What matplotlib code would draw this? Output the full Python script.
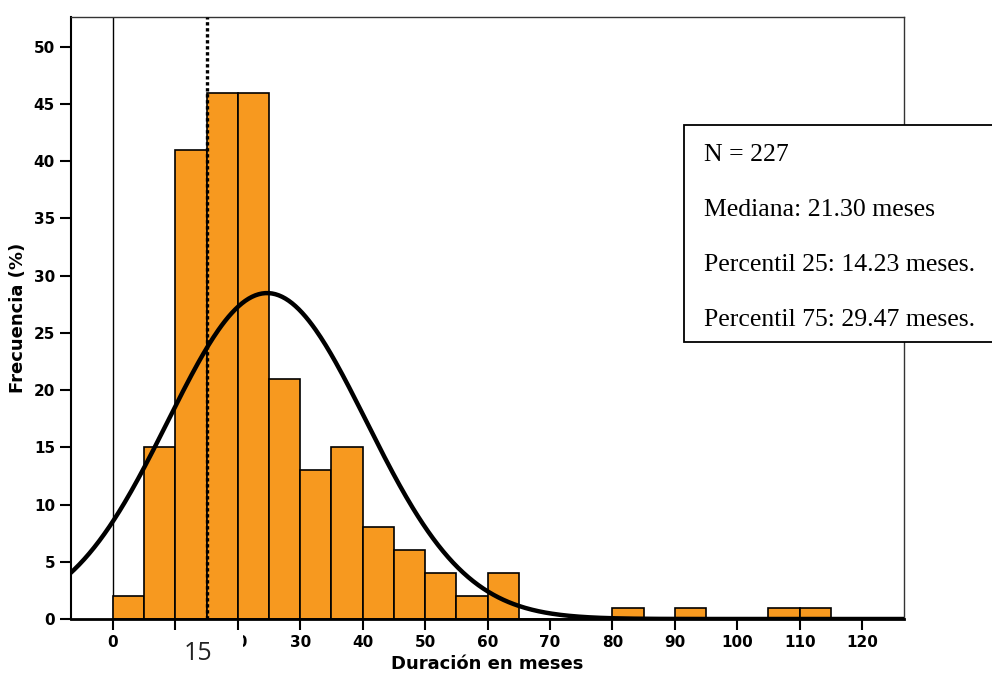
import numpy as np
import matplotlib.pyplot as plt
from matplotlib.patches import Rectangle

# Histograma de duración (bins de 5 meses)
bin_edges = np.arange(0, 130, 5)
frecuencia = [2, 15, 41, 46, 46, 21, 13, 15, 8, 6, 4, 2, 4,
              0, 0, 0, 1, 0, 1, 0, 0, 1, 1, 0, 0]

# Ajuste normal
n_total = 227
media = 24.7
desv = 15.9
ancho_bin = 5

marca_x = 15
xticks = list(range(0, 130, 10))
yticks = list(range(0, 55, 5))

resumen = ["N = 227",
           "Mediana: 21.30 meses",
           "Percentil 25: 14.23 meses.",
           "Percentil 75: 29.47 meses."]

fig = plt.figure(figsize=(9.92, 6.73), dpi=100)
ax = fig.add_axes([71 / 992, 1 - 619 / 673, (904 - 71) / 992, (619 - 17) / 673])

ax.bar(bin_edges[:-1], frecuencia, width=ancho_bin, align='edge',
       color='#F7991F', edgecolor='black', linewidth=1.2, zorder=2)

x = np.linspace(-7, 127, 500)
y = n_total * ancho_bin / (desv * np.sqrt(2 * np.pi)) * np.exp(-(x - media) ** 2 / (2 * desv ** 2))
ax.plot(x, y, color='black', linewidth=3.2, zorder=4)

ax.axvline(0, color='black', linewidth=1.0, zorder=1)
ax.axvline(marca_x, color='black', linewidth=2.4, linestyle=(0, (1, 0.8)), zorder=3)

ax.set_xlim(-6.7, 126.7)
ax.set_ylim(0, 52.6)
ax.set_xticks(xticks)
ax.set_yticks(yticks)
ax.tick_params(axis='both', direction='out', length=8, width=1.5, labelsize=11)
for lab in ax.get_xticklabels() + ax.get_yticklabels():
    lab.set_fontweight('bold')
    lab.set_family('DejaVu Sans')

for s in ['top', 'right']:
    ax.spines[s].set_linewidth(1.0)
    ax.spines[s].set_color('#333333')
ax.spines['left'].set_linewidth(1.5)
ax.spines['bottom'].set_linewidth(2.0)

ax.set_xlabel('Duración en meses', fontsize=13, fontweight='bold',
              family='DejaVu Sans')
ax.set_ylabel('Frecuencia (%)', fontsize=13, fontweight='bold',
              family='DejaVu Sans')
ax.xaxis.set_label_coords(0.5, -0.06)
ax.yaxis.set_label_coords(-0.053, 0.5)

# etiqueta del percentil 25 sobre el eje
fig.patches.append(Rectangle((153 / 992, 1 - 670 / 673), 90 / 992, 38 / 673,
                             transform=fig.transFigure, facecolor='white',
                             edgecolor='none', zorder=5))
fig.text(198 / 992, 1 - 653 / 673, str(marca_x), ha='center', va='center',
         fontsize=18, family='Open Sans', color='#222222', zorder=6)

# cuadro de resumen
fig.patches.append(Rectangle((684 / 992, 1 - 342 / 673), 310 / 992, 217 / 673,
                             transform=fig.transFigure, facecolor='white',
                             edgecolor='black', linewidth=1.3, zorder=5))
for i, linea in enumerate(resumen):
    fig.text(704 / 992, 1 - (155 + i * 55) / 673, linea, ha='left', va='center',
             fontsize=18.5, family='Liberation Serif', color='black', zorder=6)

fig.savefig('out.png', dpi=100)
